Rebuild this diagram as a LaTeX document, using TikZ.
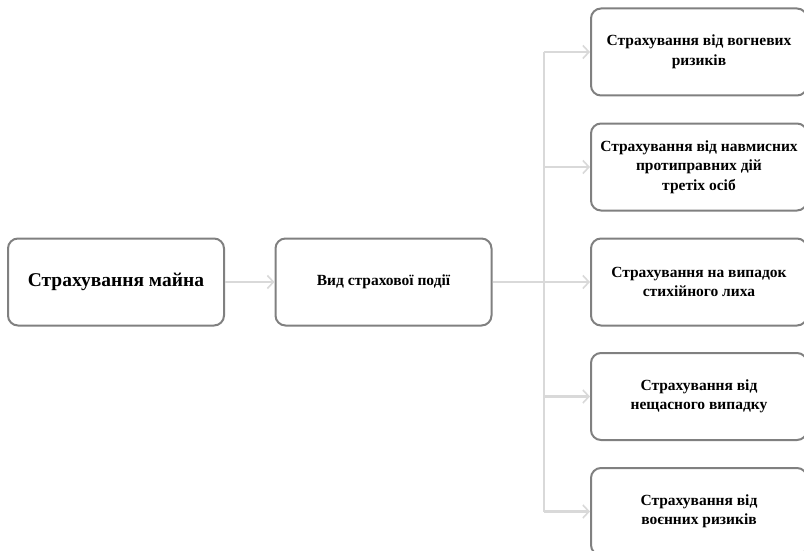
\documentclass[tikz,border=0pt]{standalone}
\usepackage{fontspec}
\setmainfont{Liberation Serif}
\usetikzlibrary{arrows.meta}
\tikzset{
  box/.style={draw=black!50, line width=2pt, rounded corners=10pt, fill=white,
    minimum width=216pt, minimum height=87pt, align=center, font=\bfseries\fontsize{15.5}{19.5}\selectfont},
  conn/.style={draw=black!15, line width=2.2pt, -{Straight Barb[length=6pt,width=13pt,line width=1.6pt]}},
  line/.style={draw=black!15, line width=2.2pt}
}
\begin{document}
\begin{tikzpicture}[x=1pt,y=-1pt]
\clip (0,0) rectangle (804,551);
\fill[white] (0,0) rectangle (804,551);
\node[box, font=\bfseries\fontsize{19.5}{23}\selectfont] (main) at (116,282) {Страхування майна};
\node[box] (kind) at (383.5,282) {Вид страхової події};
\node[box] (r1) at (699,52) {Страхування від вогневих\\ризиків};
\node[box] (r2) at (699,167) {Страхування від навмисних\\протиправних дій\\третіх осіб};
\node[box] (r3) at (699,282) {Страхування на випадок\\стихійного лиха};
\node[box] (r4) at (699,396.5) {Страхування від\\нещасного випадку};
\node[box] (r5) at (699,511.5) {Страхування від\\воєнних ризиків};
\coordinate (t1) at (544,52);
\coordinate (t5) at (544,511.5);
\coordinate (tm) at (544,282);
\draw[conn] (main) -- (kind);
\draw[line] (kind) -- (tm);
\draw[line] (t1) -- (t5);
\foreach \r in {r1,r2,r3,r4,r5}{
  \draw[conn] (tm |- \r) -- (\r);
}
\end{tikzpicture}
\end{document}
